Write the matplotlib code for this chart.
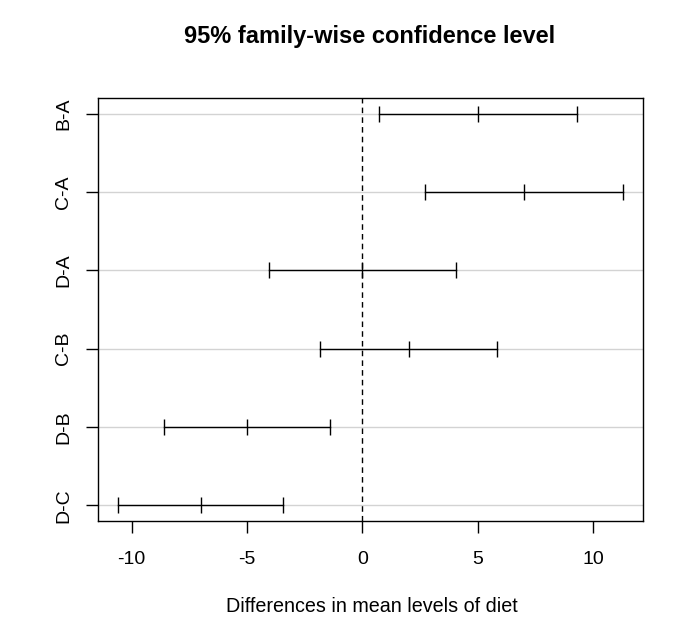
import matplotlib.pyplot as plt
import numpy as np

plt.rcParams['font.family'] = ['Liberation Sans', 'DejaVu Sans']

# TukeyHSD on diet (coagulation data)
comparisons = ["B-A", "C-A", "D-A", "C-B", "D-B", "D-C"]
diff = [5, 7, 0, 2, -5, -7]
lwr = [0.7245544, 2.7245544, -4.0560438, -1.8240748, -8.5770944, -10.5770944]
upr = [9.275446, 11.275446, 4.056044, 5.824075, -1.422906, -3.422906]
xticks = [-10, -5, 0, 5, 10]

fig = plt.figure(figsize=(6.95, 6.43), dpi=100)
ax = fig.add_axes([98 / 695, 1 - 521 / 643, (643 - 98) / 695, (521 - 98) / 643])

n = len(comparisons)
ypos = np.arange(n, 0, -1)

lo, hi = min(lwr), max(upr)
pad = 0.04 * (hi - lo)
ax.set_xlim(lo - pad, hi + pad)
ax.set_ylim(0.8, n + 0.2)

for y in ypos:
    ax.axhline(y, color="#d3d3d3", lw=1, zorder=0)

ax.axvline(0, color="black", lw=1, linestyle=(0, (4, 3)))

for y, d, l, u in zip(ypos, diff, lwr, upr):
    ax.plot([l, u], [y, y], color="black", lw=1)
    ax.plot([l, d, u], [y, y, y], linestyle="none", marker="|",
            markersize=12, markeredgewidth=1, color="black")

ax.set_xticks(xticks)
ax.set_xticklabels([str(t) for t in xticks], fontsize=14)
ax.set_yticks(ypos)
ax.set_yticklabels(comparisons, fontsize=14, rotation=90, va="center")
ax.tick_params(direction="out", length=8.5, width=1)
ax.tick_params(axis="x", pad=13)
ax.tick_params(axis="y", pad=10)
for s in ax.spines.values():
    s.set_linewidth(1)

fig.text(370 / 695, 1 - 37 / 643, "95% family-wise confidence level",
         ha="center", va="center", fontsize=17, fontweight="bold")
fig.text(372 / 695, 1 - 606 / 643, "Differences in mean levels of diet",
         ha="center", va="center", fontsize=14.2)

fig.savefig("out.png", dpi=100)
